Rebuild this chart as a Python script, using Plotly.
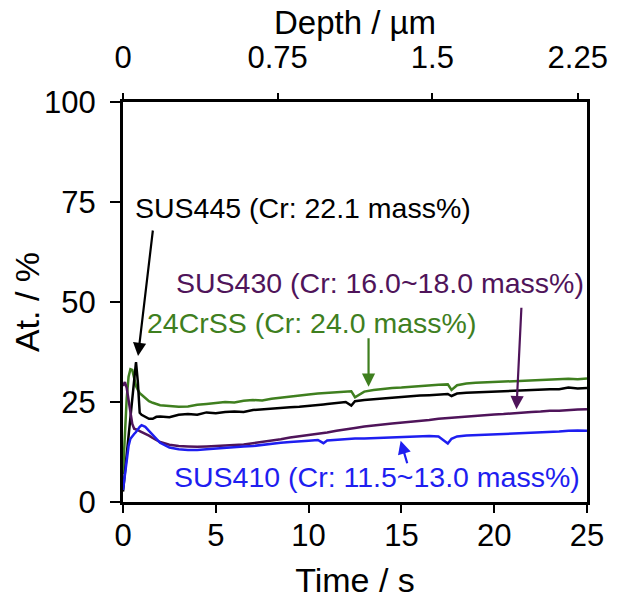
import plotly.graph_objects as go

# ---------------- data ----------------
TIME_S = [0, 0.1, 0.2, 0.3, 0.4, 0.5, 0.6, 0.7, 0.8, 0.9, 1.0, 1.2, 1.4, 1.6, 1.8, 2.0,
          2.5, 3.0, 3.5, 4.0, 4.5, 5.0, 5.5, 6.0, 6.5, 7.0, 7.5, 8.0, 8.5, 9.0, 9.5, 10.0, 10.5,
          10.8, 11.0, 11.5, 12.0, 12.3, 12.5, 13.0, 13.5, 14.0, 14.5, 15.0, 15.5, 16.0, 16.5,
          17.0, 17.5, 17.7, 18.0, 18.5, 19.0, 19.5, 20.0, 20.5, 21.0, 21.5, 22.0, 22.5, 23.0,
          23.5, 24.0, 24.5, 25.0]

CR_24CRSS = [7, 17, 26, 31.3, 33.2, 33.0, 30.5, 29.0, 28.0, 27.2, 26.8, 26.0, 25.2, 24.8, 24.4, 24.2,
             24.0, 23.8, 23.9, 24.3, 24.5, 24.8, 25.0, 24.9, 25.3, 25.5, 25.4, 25.8, 26.1, 26.4, 26.7, 26.9, 27.1,
             27.2, 27.2, 27.4, 27.6, 27.7, 26.2, 27.6, 28.0, 28.3, 28.5, 28.6, 28.8, 29.0, 29.1,
             29.3, 29.4, 28.0, 29.2, 29.6, 29.8, 29.9, 30.0, 30.0, 30.2, 30.2, 30.4, 30.5, 30.5,
             30.6, 30.8, 30.7, 30.9]

CR_SUS445 = [2.6, 7.2, 11.9, 16.5, 21.0, 25.7, 30.4, 35.0, 30.0, 22.3, 21.8, 21.3, 20.8, 20.8, 21.3, 21.4,
             21.2, 21.8, 22.0, 21.8, 22.4, 22.2, 22.5, 22.6, 22.5, 23.0, 23.2, 23.3, 23.5, 23.7, 23.8, 24.1, 24.3,
             24.4, 24.5, 24.8, 25.0, 24.1, 25.2, 25.5, 25.7, 25.9, 26.1, 26.3, 26.5, 26.6, 26.7,
             26.9, 27.0, 26.5, 27.1, 27.3, 27.4, 27.5, 27.6, 27.8, 27.9, 27.9, 28.0, 28.1, 28.2,
             28.2, 28.6, 28.4, 28.5]

CR_SUS430 = [29.0, 30.0, 28.5, 25.5, 22.5, 19.5, 18.3, 18.2, 18.0, 17.7, 17.5, 17.0, 16.6, 16.0, 15.5, 15.0,
             14.3, 14.0, 13.9, 13.8, 13.9, 14.0, 14.1, 14.3, 14.4, 14.7, 15.0, 15.3, 15.7, 16.1, 16.4, 16.8, 17.1,
             17.3, 17.4, 17.8, 18.1, 18.3, 18.5, 18.9, 19.2, 19.4, 19.6, 19.8, 20.1, 20.3, 20.5,
             20.8, 21.0, 21.0, 21.2, 21.4, 21.5, 21.7, 21.9, 22.0, 22.2, 22.4, 22.5, 22.6, 22.8,
             22.8, 23.0, 23.1, 23.2]

CR_SUS410 = [3.0, 7.0, 11.0, 14.0, 15.8, 16.5, 17.0, 17.5, 18.2, 18.8, 19.2, 18.8, 17.8, 16.8, 15.7, 14.8,
             13.6, 13.2, 13.0, 13.0, 13.2, 13.4, 13.5, 13.7, 13.9, 14.0, 14.3, 14.5, 14.8, 15.0, 15.1, 15.3, 15.5,
             14.7, 15.4, 15.6, 15.7, 15.8, 15.9, 15.9, 16.0, 16.1, 16.2, 16.3, 16.3, 16.4, 16.5,
             16.4, 14.6, 15.8, 16.4, 16.6, 16.7, 16.8, 16.8, 17.0, 17.1, 17.2, 17.3, 17.4, 17.5,
             17.6, 17.8, 17.9, 17.8]

X_TICKS = [0, 5, 10, 15, 20, 25]
Y_TICKS = [0, 25, 50, 75, 100]
DEPTH_TICK_LABELS = ["0", "0.75", "1.5", "2.25"]
DEPTH_TICK_TIME = [0, 8.33, 16.67, 24.5]

SERIES_NAMES = ["24CrSS (Cr: 24.0 mass%)", "SUS445 (Cr: 22.1 mass%)",
                "SUS430 (Cr: 16.0~18.0 mass%)", "SUS410 (Cr: 11.5~13.0 mass%)"]

GREEN = "#3f7f1f"
BLACK = "#000000"
PURPLE = "#4f145a"
BLUE = "#1e1ef0"

FONT = "Liberation Sans, Arial, sans-serif"

fig = go.Figure()
for vals, col, name in [(CR_24CRSS, GREEN, SERIES_NAMES[0]),
                        (CR_SUS445, BLACK, SERIES_NAMES[1]),
                        (CR_SUS430, PURPLE, SERIES_NAMES[2]),
                        (CR_SUS410, BLUE, SERIES_NAMES[3])]:
    fig.add_trace(go.Scatter(x=TIME_S, y=vals, mode="lines", name=name,
                             line=dict(color=col, width=2.5), showlegend=False))

# invisible trace to anchor the depth axis
fig.add_trace(go.Scatter(x=[0, 25], y=[0, 0], xaxis="x2", mode="lines",
                         line=dict(width=0), hoverinfo="skip", showlegend=False))

axis_font = dict(family=FONT, size=31, color="black")
title_font = dict(family=FONT, size=34, color="black")

fig.update_layout(
    width=622, height=599,
    margin=dict(l=115, r=43, t=94, b=105),
    paper_bgcolor="white", plot_bgcolor="white",
    font=dict(family=FONT, color="black"),
    xaxis=dict(range=[0, 25], tickvals=X_TICKS, ticks="outside", ticklen=8, tickwidth=1.5,
               tickcolor="black", showline=True, linecolor="black", linewidth=3, mirror=True,
               showgrid=False, zeroline=False, tickfont=axis_font, ticklabelstandoff=-4,
               automargin=True,
               title=dict(text="Time / s", font=title_font, standoff=16)),
    xaxis2=dict(range=[0, 25], overlaying="x", side="top", anchor="y",
                tickvals=DEPTH_TICK_TIME, ticktext=DEPTH_TICK_LABELS,
                ticks="outside", ticklen=8, tickwidth=1.5, tickcolor="black",
                showline=False, showgrid=False, zeroline=False, tickfont=axis_font,
                ticklabelstandoff=13, automargin=False),
    yaxis=dict(range=[0, 100], tickvals=Y_TICKS, ticks="outside", ticklen=10, tickwidth=1.5,
               tickcolor="black", showline=True, linecolor="black", linewidth=3, mirror=True,
               showgrid=False, zeroline=False, tickfont=axis_font, ticklabelstandoff=8,
               automargin=False,
               title=dict(text="At. / %", font=title_font, standoff=8)),
)

# depth-axis title
fig.add_annotation(text="Depth / \u00b5m", xref="paper", yref="paper", x=0.5, y=1.198,
                   xanchor="center", yanchor="middle", showarrow=False, borderpad=0,
                   font=dict(family=FONT, size=33, color="black"))

# text labels
labels = [
    (SERIES_NAMES[1], 0.55, 73.5, BLACK),
    (SERIES_NAMES[2], 2.75, 54.75, PURPLE),
    (SERIES_NAMES[0], 1.2, 44.75, GREEN),
    (SERIES_NAMES[3], 2.65, 6.3, BLUE),
]
for text, x, y, col in labels:
    fig.add_annotation(x=x, y=y, text=text, showarrow=False, xanchor="left", yanchor="middle",
                       font=dict(family=FONT, size=28.5, color=col))

# arrows
arrows = [
    (0.81, 36.5, 15, -127, BLACK),
    (21.2, 23.2, 5, -103, PURPLE),
    (13.23, 28.8, 0, -50, GREEN),
    (14.96, 15.3, 7, 24, BLUE),
]
for x, y, ax, ay, col in arrows:
    fig.add_annotation(x=x, y=y, ax=ax, ay=ay, text="", showarrow=True, arrowhead=2,
                       arrowsize=1.2, arrowwidth=2.2, arrowcolor=col)

fig.write_html("out.html")
